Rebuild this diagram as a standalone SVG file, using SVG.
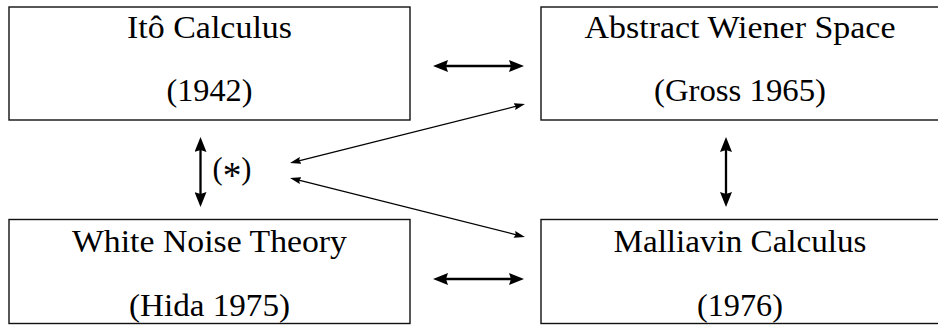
<svg xmlns="http://www.w3.org/2000/svg" width="938" height="333" viewBox="0 0 938 333">
<style>
  .box { fill: #ffffff; stroke: #111111; stroke-width: 1.4; }
  .lbl { font-family: "Liberation Serif", "Times New Roman", serif; font-size: 31px; fill: #000000; text-anchor: middle; }
  .thick { stroke: #000000; stroke-width: 2.3; fill: none; marker-start: url(#headThick); marker-end: url(#headThick); }
  .thin { stroke: #000000; stroke-width: 1.2; fill: none; marker-start: url(#headThin); marker-end: url(#headThin); }
</style>
<defs>
  <marker id="headThick" viewBox="0 0 15 12" refX="5" refY="6" markerWidth="15" markerHeight="12" markerUnits="userSpaceOnUse" orient="auto-start-reverse">
    <path d="M0,0 L15,6 L0,12 L2,6 z" fill="#000000"/>
  </marker>
  <marker id="headThin" viewBox="0 0 11 7" refX="4" refY="3.5" markerWidth="11" markerHeight="7" markerUnits="userSpaceOnUse" orient="auto-start-reverse">
    <path d="M0,0 L11,3.5 L0,7 L1.5,3.5 z" fill="#000000"/>
  </marker>
</defs>
<rect width="938" height="333" fill="#ffffff"/>

<g id="ito">
  <rect class="box" x="9" y="7" width="401" height="113"/>
  <text class="lbl" x="209.5" y="37.5" textLength="165" lengthAdjust="spacingAndGlyphs">Itô Calculus</text>
  <text class="lbl" x="209.5" y="100.5" textLength="86" lengthAdjust="spacingAndGlyphs">(1942)</text>
</g>

<g id="wiener">
  <rect class="box" x="541" y="7" width="398" height="113"/>
  <text class="lbl" x="740" y="37.5" textLength="311" lengthAdjust="spacingAndGlyphs">Abstract Wiener Space</text>
  <text class="lbl" x="740" y="101" textLength="172" lengthAdjust="spacingAndGlyphs">(Gross 1965)</text>
</g>

<g id="whitenoise">
  <rect class="box" x="9" y="219.5" width="401" height="104"/>
  <text class="lbl" x="209.5" y="251.5" textLength="275" lengthAdjust="spacingAndGlyphs">White Noise Theory</text>
  <text class="lbl" x="209.5" y="316" textLength="161" lengthAdjust="spacingAndGlyphs">(Hida 1975)</text>
</g>

<g id="malliavin">
  <rect class="box" x="541" y="219.5" width="398" height="104"/>
  <text class="lbl" x="740" y="251.5" textLength="253" lengthAdjust="spacingAndGlyphs">Malliavin Calculus</text>
  <text class="lbl" x="740" y="316" textLength="86" lengthAdjust="spacingAndGlyphs">(1976)</text>
</g>

<g id="star">
  <text class="lbl" x="232" y="179" textLength="39" lengthAdjust="spacingAndGlyphs">(<tspan dy="9" font-size="38">*</tspan><tspan dy="-9">)</tspan></text>
</g>

<g id="connectors">
  <line class="thick" x1="443" y1="66" x2="514" y2="66"/>
  <line class="thick" x1="443" y1="279" x2="514" y2="279"/>
  <line class="thick" x1="200.5" y1="147" x2="200.5" y2="197"/>
  <line class="thick" x1="726" y1="147" x2="726" y2="197"/>
  <line class="thin" x1="296.8" y1="161.3" x2="518.2" y2="105.7"/>
  <line class="thin" x1="296.8" y1="179.7" x2="518.2" y2="235.3"/>
</g>
</svg>
